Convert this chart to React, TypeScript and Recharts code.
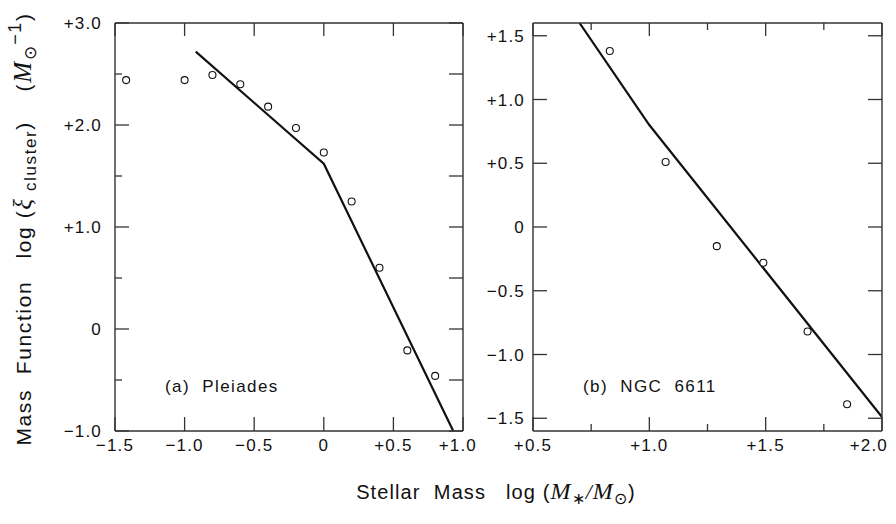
import React from 'react';
import { ComposedChart, Line, Scatter, XAxis, YAxis } from 'recharts';

// (a) Pleiades: observed points and the broken power-law fit
const pleiadesMass = [-1.42, -1.0, -0.8, -0.6, -0.4, -0.2, 0.0, 0.2, 0.4, 0.6, 0.8];
const pleiadesXi = [2.44, 2.44, 2.49, 2.4, 2.18, 1.97, 1.73, 1.25, 0.6, -0.21, -0.46];
const pleiadesFitMass = [-0.92, 0.0, 0.93];
const pleiadesFitXi = [2.72, 1.62, -1.0];

// (b) NGC 6611
const ngcMass = [0.83, 1.07, 1.29, 1.49, 1.68, 1.85];
const ngcXi = [1.38, 0.51, -0.15, -0.28, -0.82, -1.39];
const ngcFitMass = [0.7, 1.0, 2.0];
const ngcFitXi = [1.6, 0.8, -1.49];

const pleiadesXTicks = [-1.5, -1.0, -0.5, 0, 0.5, 1.0];
const pleiadesYTicks = [-1.0, -0.5, 0, 0.5, 1.0, 1.5, 2.0, 2.5, 3.0];
const ngcXTicks = [0.5, 0.75, 1.0, 1.25, 1.5, 1.75, 2.0];
const ngcYTicks = [-1.5, -1.0, -0.5, 0, 0.5, 1.0, 1.5];

const toPts = (xs: number[], ys: number[]) => xs.map((x, i) => ({ x, y: ys[i] }));

const FONT = '"Liberation Sans", Arial, Helvetica, sans-serif';
const SERIF = '"Liberation Serif", "Times New Roman", serif';
const INK = '#111';
const FRAME = '#333';

const fmt = (v: number) => (v === 0 ? '0' : (v > 0 ? '+' : '\u2212') + Math.abs(v).toFixed(1));
const isInt = (v: number) => Math.abs(v - Math.round(v)) < 1e-6;
const isHalf = (v: number) => Math.abs(v * 2 - Math.round(v * 2)) < 1e-6;
const always = () => true;

type Side = 'left' | 'right' | 'top' | 'bottom';

// inward tick marks, label outside (only on majors)
const tickFactory = (side: Side, label: boolean, isMajor: (v: number) => boolean, long: number, short: number, gap: number, edgeX = Infinity) =>
  (props: any) => {
    const { x, y, payload } = props;
    const v = payload.value;
    const major = isMajor(v);
    const len = major ? long : short;
    let tick: any = null;
    let txt: any = null;
    const tstyle = { fontFamily: FONT, fontSize: 17, letterSpacing: 1.2, fill: INK };
    if (side === 'left') {
      tick = <line x1={x} y1={y} x2={x + len} y2={y} stroke={FRAME} strokeWidth={1.3} />;
      if (label && major) txt = <text x={x - gap} y={y} dy="0.36em" textAnchor="end" style={tstyle}>{fmt(v)}</text>;
    } else if (side === 'right') {
      tick = <line x1={x} y1={y} x2={x - len} y2={y} stroke={FRAME} strokeWidth={1.3} />;
    } else if (side === 'top') {
      tick = <line x1={x} y1={y} x2={x} y2={y + len} stroke={FRAME} strokeWidth={1.3} />;
    } else {
      tick = <line x1={x} y1={y} x2={x} y2={y - len} stroke={FRAME} strokeWidth={1.3} />;
      if (label && major) {
        // the last label would run past the page edge: right-align it there
        const atEdge = x + 18 > edgeX;
        txt = <text x={atEdge ? edgeX : x} y={y + gap} dy="0.36em" textAnchor={atEdge ? 'end' : 'middle'} style={tstyle}>{fmt(v)}</text>;
      }
    }
    return <g>{tick}{txt}</g>;
  };

const Ring = (p: any) => <circle cx={p.cx} cy={p.cy} r={3.5} fill="#fff" stroke={INK} strokeWidth={1.1} />;

const axisLine = { stroke: FRAME, strokeWidth: 1.4 };

function Panel({ pts, fit, xDomain, yDomain, xTicks, yTicks, xMajor, yMajor, yShort, yGap, left, width, margin, yWidth }: any) {
  return (
    <div style={{ position: 'absolute', left, top: 0 }}>
      <ComposedChart width={width} height={470} margin={margin}>
        <XAxis xAxisId={0} type="number" dataKey="x" domain={xDomain} ticks={xTicks} interval={0} allowDataOverflow
          orientation="bottom" height={30} tickSize={0} tickMargin={0} tickLine={false} axisLine={axisLine}
          tick={tickFactory('bottom', true, xMajor, 14, 7, 14, width - 8)} />
        <XAxis xAxisId="t" type="number" dataKey="x" domain={xDomain} ticks={xTicks} interval={0} allowDataOverflow
          orientation="top" height={5} tickSize={0} tickMargin={0} tickLine={false} axisLine={axisLine}
          tick={tickFactory('top', false, xMajor, 13, 7, 0)} />
        <YAxis yAxisId={0} type="number" dataKey="y" domain={yDomain} ticks={yTicks} interval={0} allowDataOverflow
          orientation="left" width={yWidth} tickSize={0} tickMargin={0} tickLine={false} axisLine={axisLine}
          tick={tickFactory('left', true, yMajor, 14, yShort, yGap)} />
        <YAxis yAxisId="r" type="number" dataKey="y" domain={yDomain} ticks={yTicks} interval={0} allowDataOverflow
          orientation="right" width={5} tickSize={0} tickMargin={0} tickLine={false} axisLine={axisLine}
          tick={tickFactory('right', false, always, 14, 14, 0)} />
        <Line data={fit} dataKey="y" type="linear" stroke={INK} strokeWidth={2.2} dot={false} isAnimationActive={false} />
        <Scatter data={pts} dataKey="y" shape={Ring} isAnimationActive={false} />
      </ComposedChart>
    </div>
  );
}

export default function App() {
  const ital = { fontFamily: SERIF, fontStyle: 'italic' as const, fontSize: 25 };
  return (
    <div style={{ position: 'absolute', left: 0, top: 0, width: 896, height: 524, background: '#fff', overflow: 'hidden' }}>
      <Panel
        pts={toPts(pleiadesMass, pleiadesXi)}
        fit={toPts(pleiadesFitMass, pleiadesFitXi)}
        xDomain={[-1.5, 1.0]} yDomain={[-1.0, 3.0]}
        xTicks={pleiadesXTicks} yTicks={pleiadesYTicks}
        xMajor={always} yMajor={isInt} yShort={7} yGap={13}
        left={0} width={485} yWidth={60}
        margin={{ top: 18, right: 17, bottom: 9, left: 55 }}
      />
      <Panel
        pts={toPts(ngcMass, ngcXi)}
        fit={toPts(ngcFitMass, ngcFitXi)}
        xDomain={[0.5, 2.0]} yDomain={[-1.6, 1.6]}
        xTicks={ngcXTicks} yTicks={ngcYTicks}
        xMajor={isHalf} yMajor={always} yShort={14} yGap={8}
        left={485} width={411} yWidth={40}
        margin={{ top: 18, right: 9, bottom: 9, left: 8 }}
      />
      <svg width={896} height={524} style={{ position: 'absolute', left: 0, top: 0, pointerEvents: 'none' }}>
        <g style={{ fontFamily: FONT, fontSize: 17, fill: INK, letterSpacing: 1.4 }}>
          <text x={165} y={392} xmlSpace="preserve">(a)  Pleiades</text>
          <text x={583} y={392} xmlSpace="preserve">(b)  NGC  6611</text>
        </g>
        <g style={{ fontFamily: FONT, fontSize: 20, fill: INK, letterSpacing: 1.1 }}>
          <text x={496} y={499} textAnchor="middle" xmlSpace="preserve">
            {'Stellar  Mass   log ('}
            <tspan style={{ ...ital, fontSize: 24 }}>M</tspan>
            <tspan dy={5} style={{ fontSize: 16 }}>{'\u2217'}</tspan>
            <tspan dy={-5} style={{ fontFamily: SERIF, fontStyle: 'italic', fontSize: 22 }}>{'/'}</tspan>
            <tspan style={{ ...ital, fontSize: 24 }}>M</tspan>
            <tspan dy={5} style={{ fontSize: 16 }}>{'\u2299'}</tspan>
            <tspan dy={-5}>{')'}</tspan>
          </text>
        </g>
        <g style={{ fontFamily: FONT, fontSize: 21, fill: INK, letterSpacing: 1.6 }}>
          <text x={31} y={229} textAnchor="middle" transform="rotate(-90 31 229)" xmlSpace="preserve">
            {'Mass  Function   log ('}
            <tspan style={ital}>{'\u03BE'}</tspan>
            <tspan dy={5} style={{ fontSize: 17 }}>{' cluster'}</tspan>
            <tspan dy={-5}>{')    ('}</tspan>
            <tspan style={ital}>M</tspan>
            <tspan dy={5} style={{ fontSize: 17 }}>{'\u2299'}</tspan>
            <tspan dy={-15} style={{ fontSize: 18 }}>{'\u2212'}</tspan>
            <tspan style={{ fontSize: 18 }}>{'1'}</tspan>
            <tspan dy={10}>{')'}</tspan>
          </text>
        </g>
      </svg>
    </div>
  );
}
